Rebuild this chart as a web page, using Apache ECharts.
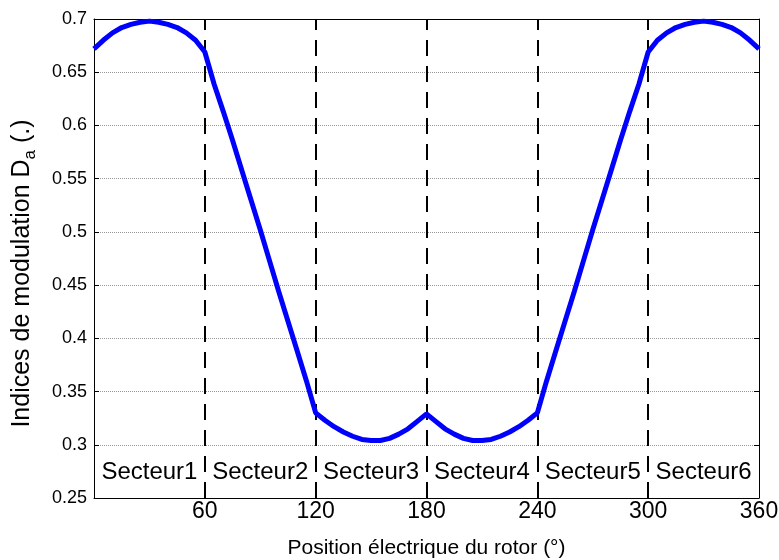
<!DOCTYPE html>
<html>
<head>
<meta charset="utf-8">
<script src="https://cdn.jsdelivr.net/npm/echarts@6/dist/echarts.min.js"></script>
<style>
  html, body { margin: 0; padding: 0; background: #fff; }
</style>
</head>
<body>
<div id="main" style="width:779px;height:560px;"></div>
<script>
// position electrique (deg), pas de 5
var angles = [];
for (var a = 0; a <= 360; a += 5) angles.push(a);

// indice de modulation Da
var da = [
  0.672, 0.680, 0.687, 0.692, 0.695, 0.697, 0.698, 0.697, 0.695, 0.692, 0.687, 0.680, // 0-55
  0.669, 0.639, 0.613, 0.586, 0.558, 0.530, 0.502, 0.473, 0.444, 0.416, 0.388, 0.360, // 60-115
  0.330, 0.323, 0.317, 0.312, 0.308, 0.305, 0.304, 0.304, 0.306, 0.310, 0.315, 0.322, // 120-175
  0.329, 0.322, 0.315, 0.310, 0.306, 0.304, 0.304, 0.305, 0.308, 0.312, 0.317, 0.323, // 180-235
  0.330, 0.360, 0.388, 0.416, 0.444, 0.473, 0.502, 0.530, 0.558, 0.586, 0.613, 0.639, // 240-295
  0.669, 0.680, 0.687, 0.692, 0.695, 0.697, 0.698, 0.697, 0.695, 0.692, 0.687, 0.680, // 300-355
  0.672
];

// limites des secteurs
var sectorBounds = [0, 60, 120, 180, 240, 300, 360];
var sectorNames = ["Secteur1", "Secteur2", "Secteur3", "Secteur4", "Secteur5", "Secteur6"];
var sectorLabelY = 0.274;

var xTicks = [60, 120, 180, 240, 300, 360];

var font = "Liberation Sans, Arial, sans-serif";

var curve = angles.map(function (x, i) { return [x, da[i]]; });
var labels = sectorNames.map(function (n, i) {
  return { value: [(sectorBounds[i] + sectorBounds[i + 1]) / 2, sectorLabelY], name: n };
});
var dashLines = sectorBounds.slice(1, -1).map(function (x) { return { xAxis: x }; });

var myChart = echarts.init(document.getElementById("main"));
myChart.setOption({
  animation: false,
  grid: { left: 94, right: 20, top: 19, bottom: 62, outerBoundsMode: "none" },
  xAxis: [
    {
      type: "value",
      min: 0,
      max: 360,
      interval: 60,
      position: "bottom",
      name: "Position électrique du rotor (°)",
      nameLocation: "middle",
      nameGap: 40,
      nameTextStyle: { fontFamily: font, fontSize: 21, color: "#000" },
      axisLine: { show: true, onZero: false, lineStyle: { color: "#000", width: 1 } },
      axisTick: { show: true, inside: true, length: 5, lineStyle: { color: "#000" } },
      axisLabel: {
        margin: 2,
        fontFamily: font,
        fontSize: 23,
        color: "#000",
        formatter: function (v) { return xTicks.indexOf(v) >= 0 ? String(v) : ""; }
      },
      splitLine: { show: false }
    },
    {
      type: "value",
      min: 0,
      max: 360,
      interval: 60,
      position: "top",
      axisLine: { show: true, onZero: false, lineStyle: { color: "#000", width: 1 } },
      axisTick: { show: true, inside: true, length: 5, lineStyle: { color: "#000" } },
      axisLabel: { show: false },
      splitLine: { show: false }
    }
  ],
  yAxis: [
    {
      type: "value",
      min: 0.25,
      max: 0.7,
      interval: 0.05,
      position: "left",
      name: "Indices de modulation D{s|a} (.)",
      nameLocation: "middle",
      nameRotate: 90,
      nameGap: 55,
      nameTextStyle: {
        fontFamily: font,
        fontSize: 25,
        color: "#000",
        lineHeight: 34,
        padding: [0, 30, 0, 0],
        rich: {
          s: { fontFamily: font, fontSize: 17, color: "#000", verticalAlign: "bottom", lineHeight: 17 }
        }
      },
      axisLine: { show: true, onZero: false, lineStyle: { color: "#000", width: 1 } },
      axisTick: { show: true, inside: true, length: 5, lineStyle: { color: "#000" } },
      axisLabel: {
        margin: 7,
        fontFamily: font,
        fontSize: 18,
        color: "#000",
        formatter: function (v) { return String(+v.toFixed(2)); }
      },
      splitLine: { show: true, lineStyle: { color: "#9a9a9a", width: 1, type: "dotted" } }
    },
    {
      type: "value",
      min: 0.25,
      max: 0.7,
      interval: 0.05,
      position: "right",
      axisLine: { show: true, onZero: false, lineStyle: { color: "#000", width: 1 } },
      axisTick: { show: true, inside: true, length: 5, lineStyle: { color: "#000" } },
      axisLabel: { show: false },
      splitLine: { show: false }
    }
  ],
  series: [
    {
      name: "Da",
      type: "line",
      data: curve,
      symbol: "none",
      smooth: false,
      lineStyle: { color: "#0000ff", width: 5 },
      z: 3,
      markLine: {
        silent: true,
        symbol: "none",
        label: { show: false },
        lineStyle: { color: "#000", width: 2, type: [16, 10] },
        data: dashLines,
        z: 2
      }
    },
    {
      name: "secteurs",
      type: "scatter",
      data: labels,
      symbolSize: 0,
      silent: true,
      itemStyle: { opacity: 1 },
      label: {
        show: true,
        position: "inside",
        fontFamily: font,
        fontSize: 24,
        color: "#000",
        formatter: function (p) { return p.name; }
      }
    }
  ]
});
</script>
</body>
</html>
